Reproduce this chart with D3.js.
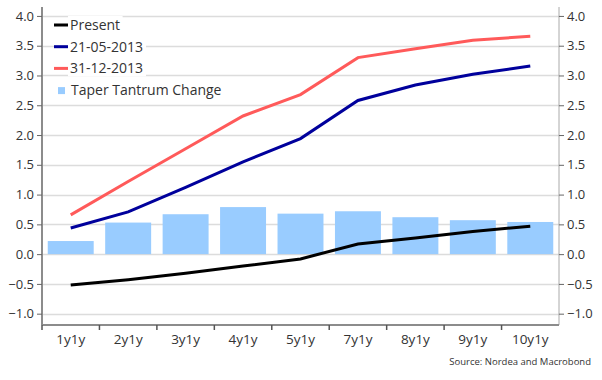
<!DOCTYPE html>
<html>
<head>
<meta charset="utf-8">
<script src="https://cdn.jsdelivr.net/npm/d3@7"></script>
<style>
  body { margin: 0; background: #fff; }
  text { font-family: "Open Sans", "Noto Sans", sans-serif; fill: #333; }
</style>
</head>
<body>
<div id="chart"></div>
<script>
  // forward tenors on the x axis
  const tenors = ["1y1y", "2y1y", "3y1y", "4y1y", "5y1y", "7y1y", "8y1y", "9y1y", "10y1y"];

  const present   = [-0.52, -0.43, -0.32, -0.20, -0.08, 0.17, 0.27, 0.38, 0.47];
  const may2013   = [0.44, 0.71, 1.12, 1.55, 1.94, 2.58, 2.84, 3.02, 3.16];
  const dec2013   = [0.66, 1.22, 1.77, 2.32, 2.68, 3.30, 3.45, 3.59, 3.66];
  const taperChg  = [0.22, 0.53, 0.67, 0.79, 0.68, 0.72, 0.62, 0.57, 0.54];

  const yTicks = [-1.0, -0.5, 0.0, 0.5, 1.0, 1.5, 2.0, 2.5, 3.0, 3.5, 4.0];

  const width = 602, height = 380;
  const plot = {left: 42, right: 559, top: 7, bottom: 325};

  const svg = d3.select("#chart").append("svg")
      .attr("width", width)
      .attr("height", height);

  const x = d3.scaleBand()
      .domain(tenors)
      .range([plot.left, plot.right])
      .paddingInner(0.2)
      .paddingOuter(0.1);

  const y = d3.scaleLinear()
      .domain([-1.19, 4.15])
      .range([plot.bottom, plot.top]);

  //gridlines
  svg.append("g")
    .selectAll("line")
    .data(yTicks)
    .enter().append("line")
      .attr("x1", plot.left)
      .attr("x2", plot.right)
      .attr("y1", (d) => Math.round(y(d)) + 0.5)
      .attr("y2", (d) => Math.round(y(d)) + 0.5)
      .attr("stroke", "#dcdcdc")
      .attr("stroke-width", 1.5);

  //bars
  svg.append("g")
    .selectAll("rect")
    .data(taperChg)
    .enter().append("rect")
      .attr("x", (d, i) => x(tenors[i]))
      .attr("y", (d) => y(d))
      .attr("width", x.bandwidth())
      .attr("height", (d) => y(0) - y(d))
      .attr("fill", "#99ccff");

  const line = d3.line()
      .x((d, i) => x(tenors[i]) + x.bandwidth() / 2)
      .y((d) => y(d));

  const series = [
    {name: "Present", values: present, color: "#000000"},
    {name: "21-05-2013", values: may2013, color: "#00009c"},
    {name: "31-12-2013", values: dec2013, color: "#ff5a5a"}
  ];

  svg.append("g")
    .selectAll("path")
    .data(series.slice().reverse())
    .enter().append("path")
      .attr("d", (d) => line(d.values))
      .attr("fill", "none")
      .attr("stroke", (d) => d.color)
      .attr("stroke-width", 3);

  //left axis
  const yAxisL = svg.append("g")
      .attr("transform", "translate(" + plot.left + ",0)")
      .call(d3.axisLeft(y).tickValues(yTicks).tickFormat(d3.format(".1f")).tickSize(5).tickPadding(3));
  yAxisL.select(".domain").attr("stroke", "#8c8c8c").attr("stroke-width", 2)
      .attr("d", "M0," + plot.top + "V" + plot.bottom);
  yAxisL.selectAll(".tick line").attr("stroke", "#666");
  yAxisL.selectAll("text").style("font-size", "13px").attr("fill", "#333");

  //right axis
  const yAxisR = svg.append("g")
      .attr("transform", "translate(" + plot.right + ",0)")
      .call(d3.axisRight(y).tickValues(yTicks).tickFormat(d3.format(".1f")).tickSize(5).tickPadding(3));
  yAxisR.select(".domain").attr("stroke", "#aaa").attr("stroke-width", 1)
      .attr("d", "M0," + plot.top + "V" + plot.bottom);
  yAxisR.selectAll(".tick line").attr("stroke", "#666");
  yAxisR.selectAll("text").style("font-size", "13px").attr("fill", "#333");

  //bottom axis
  const xAxis = svg.append("g")
      .attr("transform", "translate(0," + plot.bottom + ")")
      .call(d3.axisBottom(x).tickSize(0).tickPadding(9));
  xAxis.select(".domain").attr("stroke", "#8c8c8c").attr("stroke-width", 2)
      .attr("d", "M" + plot.left + ",0H" + plot.right);
  xAxis.selectAll("text").style("font-size", "13.5px").attr("fill", "#333");

  //band boundary ticks
  const step = (plot.right - plot.left) / tenors.length;
  svg.append("g")
    .selectAll("line")
    .data(tenors)
    .enter().append("line")
      .attr("x1", (d, i) => plot.left + i * step)
      .attr("x2", (d, i) => plot.left + i * step)
      .attr("y1", plot.bottom)
      .attr("y2", plot.bottom + 5)
      .attr("stroke", "#555")
      .attr("stroke-width", 1.5);

  //legend
  const legend = svg.append("g")
      .attr("transform", "translate(54,25)");

  const legendItems = series.concat([{name: "Taper Tantrum Change", color: "#99ccff", bar: true}]);

  const li = legend.selectAll("g")
      .data(legendItems)
      .enter().append("g")
      .attr("transform", (d, i) => "translate(0," + i * 21.7 + ")");

  li.append("rect")
      .attr("x", 14)
      .attr("y", -9)
      .attr("width", (d) => d.name.length * 7.8)
      .attr("height", 17)
      .attr("fill", "#fff");

  li.filter((d) => !d.bar).append("line")
      .attr("x1", 0)
      .attr("x2", 14)
      .attr("y1", 0)
      .attr("y2", 0)
      .attr("stroke", (d) => d.color)
      .attr("stroke-width", 3);

  li.filter((d) => d.bar).append("rect")
      .attr("x", 4)
      .attr("y", -3)
      .attr("width", 7)
      .attr("height", 7)
      .attr("fill", (d) => d.color);

  li.append("text")
      .attr("x", (d) => d.bar ? 17 : 16)
      .attr("y", 0)
      .attr("dy", "0.36em")
      .style("font-size", "14px")
      .text((d) => d.name);

  //source
  svg.append("text")
      .attr("x", 591)
      .attr("y", 365)
      .attr("text-anchor", "end")
      .style("font-size", "9.5px")
      .attr("fill", "#555")
      .text("Source: Nordea and Macrobond");
</script>
</body>
</html>
